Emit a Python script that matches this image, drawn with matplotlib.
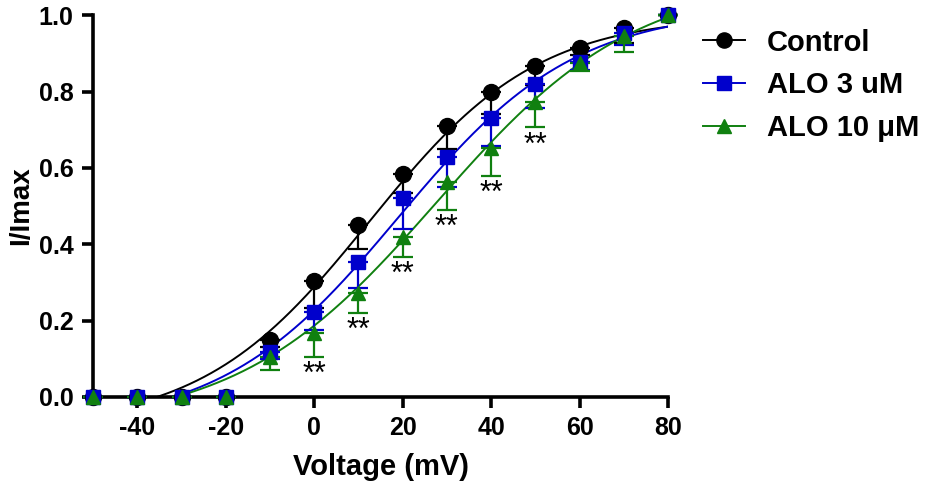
import numpy as np
from matplotlib import pyplot as plt
from matplotlib.lines import Line2D

plt.rcParams['axes.unicode_minus'] = False

# membrane voltage steps (mV)
voltage = [-50, -40, -30, -20, -10, 0, 10, 20, 30, 40, 50, 60, 70, 80]

# normalised current I/Imax (mean) and lower SEM
control = [0, 0, 0, 0, 0.15, 0.304, 0.45, 0.585, 0.71, 0.80, 0.867, 0.915, 0.966, 1.0]
control_err = [0, 0, 0, 0, 0.02, 0.07, 0.063, 0.05, 0.06, 0.06, 0.05, 0.02, 0.04, 0]

alo3 = [0, 0, 0, 0, 0.118, 0.223, 0.353, 0.52, 0.628, 0.73, 0.82, 0.877, 0.953, 1.0]
alo3_err = [0, 0, 0, 0, 0.02, 0.048, 0.068, 0.081, 0.078, 0.073, 0.063, 0.02, 0.03, 0]

alo10 = [0, 0, 0, 0, 0.105, 0.167, 0.272, 0.42, 0.563, 0.652, 0.773, 0.875, 0.945, 1.0]
alo10_err = [0, 0, 0, 0, 0.035, 0.062, 0.052, 0.053, 0.073, 0.072, 0.067, 0.02, 0.042, 0]

# Boltzmann fit parameters (control, ALO 3, ALO 10), estimated from the drawn curves
fit_bottom = [-0.08, -0.08, -0.08]
fit_top = [1.0, 1.02, 1.1]
fit_vhalf = [12.5, 19.0, 27.7]
fit_slope = [19.0, 20.0, 22.5]

# voltages with ** (ALO 10 vs control)
sig_voltage = [0, 10, 20, 30, 40, 50]

labels = ['Control', 'ALO 3 uM', 'ALO 10 \u03bcM']
colors = ['black', '#0000CC', '#108010']
markers = ['o', 's', '^']
msizes = [11.5, 10.5, 10.5]


def boltzmann(v, bot, top, vh, k):
    return bot + (top - bot) / (1 + np.exp((vh - v) / k))


fig = plt.figure(figsize=(9.37, 4.9), dpi=100)
ax = fig.add_axes([0.0993, 0.19, 0.6137, 0.779])

wide = ['Liberation Sans', 'DejaVu Sans']

v_arr = np.array(voltage, float)
vv = np.linspace(-50, 80, 400)
series = [(control, control_err), (alo3, alo3_err), (alo10, alo10_err)]
for i, ((y, e), c, m, ms) in enumerate(zip(series, colors, markers, msizes)):
    curve = boltzmann(vv, fit_bottom[i], fit_top[i], fit_vhalf[i], fit_slope[i])
    ax.plot(vv, curve, color=c, lw=1.4, zorder=2)
    ax.errorbar(v_arr, y, yerr=[e, np.zeros(len(e))], fmt='none', ecolor=c,
                elinewidth=1.6, capsize=7, capthick=1.6, zorder=3, clip_on=False)
    ax.plot(v_arr, y, linestyle='none', marker=m, markersize=ms, color=c,
            markeredgecolor=c, zorder=4, clip_on=False)

for v in sig_voltage:
    i = voltage.index(v)
    ax.text(v, alo10[i] - alo10_err[i] - 0.048, '**', ha='center', va='center',
            fontsize=22, family=wide, color='black')

ax.set_xlim(-50, 80)
ax.set_ylim(0, 1.0)
ax.set_xticks([-40, -20, 0, 20, 40, 60, 80])
ax.set_yticks([0, 0.2, 0.4, 0.6, 0.8, 1.0])
ax.set_yticklabels(['0.0', '0.2', '0.4', '0.6', '0.8', '1.0'])
for s in ['top', 'right']:
    ax.spines[s].set_visible(False)
for s in ['left', 'bottom']:
    ax.spines[s].set_linewidth(2.6)
ax.tick_params(width=2.6, length=8, direction='out', pad=6)
for lab in ax.get_xticklabels() + ax.get_yticklabels():
    lab.set_family(wide)
    lab.set_fontweight('bold')
    lab.set_fontsize(18)

ax.set_xlabel('Voltage (mV)', family=wide, fontweight='bold', fontsize=21, labelpad=9)
ax.set_ylabel('I/Imax', family=wide, fontweight='bold', fontsize=20, labelpad=3)

handles = [Line2D([], [], color=c, marker=m, markersize=ms * 0.95, lw=1.4)
           for c, m, ms in zip(colors, markers, msizes)]
fig.legend(handles, labels, loc='upper left', bbox_to_anchor=(0.722, 0.995),
           frameon=False, handlelength=1.45, handletextpad=0.75, labelspacing=0.5,
           prop={'family': wide, 'weight': 'bold', 'size': 21})

fig.savefig('out.png', dpi=100)
